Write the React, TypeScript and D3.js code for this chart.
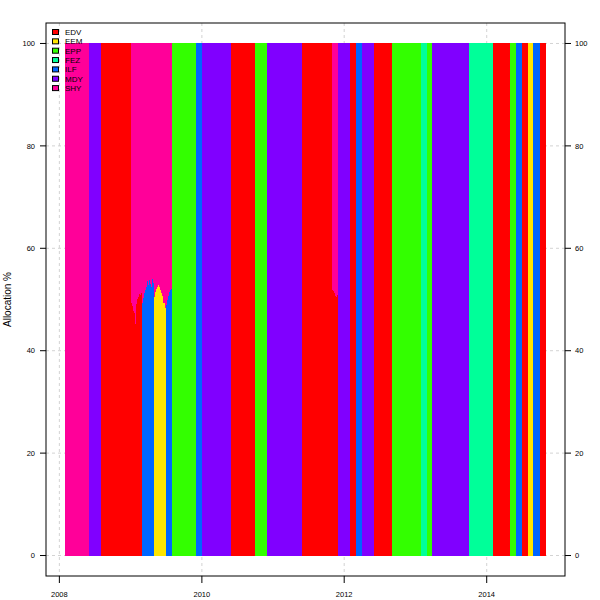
import React from "react";
import * as d3 from "d3";

// Funds (stacking order, bottom to top) and their colours
const assets = ["EDV", "EEM", "EPP", "FEZ", "ILF", "MDY", "SHY"];
const assetColors = ["#FF0000", "#FFE600", "#33FF00", "#00FF99", "#0066FF", "#8000FF", "#FF0099"];

// Observations: date, fund held, % in that fund (the rest is held in SHY)
const obsDates = [
  "2008-01-31", "2008-05-30", "2008-07-31",
  "2008-12-31", "2009-01-07", "2009-01-12", "2009-01-17", "2009-01-22", "2009-01-27",
  "2009-02-02", "2009-02-06", "2009-02-11", "2009-02-16", "2009-02-21",
  "2009-02-27", "2009-03-04", "2009-03-09", "2009-03-14", "2009-03-19", "2009-03-24",
  "2009-03-29", "2009-04-03", "2009-04-08", "2009-04-13", "2009-04-19", "2009-04-24",
  "2009-04-30", "2009-05-04", "2009-05-09", "2009-05-14", "2009-05-19", "2009-05-24",
  "2009-05-29", "2009-06-03", "2009-06-08", "2009-06-13", "2009-06-18", "2009-06-24",
  "2009-06-30", "2009-07-05", "2009-07-10", "2009-07-15", "2009-07-20", "2009-07-25",
  "2009-07-31", "2009-11-30", "2009-12-31", "2010-05-28", "2010-09-30", "2010-11-30",
  "2011-05-31",
  "2011-10-31", "2011-11-05", "2011-11-10", "2011-11-15", "2011-11-20", "2011-11-25",
  "2011-11-30", "2012-01-31", "2012-02-29", "2012-03-30", "2012-05-31", "2012-08-31",
  "2013-01-31", "2013-02-28", "2013-03-28", "2013-09-30", "2014-01-31", "2014-04-30",
  "2014-05-30", "2014-06-30", "2014-07-31", "2014-08-29", "2014-09-30", "2014-10-31",
];
const obsFund = [
  "SHY", "MDY", "EDV",
  "EDV", "EDV", "EDV", "EDV", "EDV", "EDV",
  "EDV", "EDV", "EDV", "EDV", "EDV",
  "ILF", "ILF", "ILF", "ILF", "ILF", "ILF",
  "ILF", "ILF", "ILF", "ILF", "ILF", "ILF",
  "EEM", "EEM", "EEM", "EEM", "EEM", "EEM",
  "EEM", "EEM", "EEM", "EEM", "EEM", "EEM",
  "ILF", "ILF", "ILF", "ILF", "ILF", "ILF",
  "EPP", "ILF", "MDY", "EDV", "EPP", "MDY",
  "EDV",
  "EDV", "EDV", "EDV", "EDV", "EDV", "EDV",
  "MDY", "EDV", "ILF", "MDY", "EDV", "EPP",
  "FEZ", "EPP", "MDY", "FEZ", "EDV", "EPP",
  "ILF", "EDV", "EEM", "ILF", "EDV", "EDV",
];
const obsWeight = [
  100, 100, 100,
  49.3, 48.7, 47.8, 47.4, 45.2, 49.1,
  50.1, 50.5, 51.1, 50.9, 51.3,
  49.3, 50.3, 51.3, 51.9, 52.4, 53.6,
  52.8, 53.8, 53.0, 52.4, 54.0, 53.2,
  50.5, 51.5, 52.0, 52.4, 52.8, 52.4,
  51.8, 51.3, 50.7, 50.1, 49.3, 48.3,
  48.9, 49.9, 50.7, 51.5, 51.9, 52.0,
  100, 100, 100, 100, 100, 100,
  100,
  51.9, 51.7, 51.3, 50.7, 50.5, 50.9,
  100, 100, 100, 100, 100, 100,
  100, 100, 100, 100, 100, 100,
  100, 100, 100, 100, 100, 100,
];

const xTickYears = [2008, 2010, 2012, 2014];
const yTicks = [0, 20, 40, 60, 80, 100];
const yLabel = "Allocation %";

export default function App() {
  const W = 600, H = 600;
  const left = 46, right = 565, top = 23, bottom = 576;
  const font = "'Liberation Sans', Arial, Helvetica, sans-serif";
  const parse = d3.timeParse("%Y-%m-%d");

  const rows = obsDates.map((d, i) => {
    const r: any = { date: parse(d) };
    assets.forEach((a) => (r[a] = 0));
    r[obsFund[i]] += obsWeight[i];
    r.SHY += 100 - obsWeight[i];
    return r;
  });

  const ext = d3.extent(rows, (r: any) => +r.date) as [number, number];
  const span = ext[1] - ext[0];
  const x = d3
    .scaleTime()
    .domain([new Date(ext[0] - 0.04 * span), new Date(ext[1] + 0.04 * span)])
    .range([left, right]);
  const y = d3.scaleLinear().domain([-4, 104]).range([bottom, top]);

  const series = d3.stack().keys(assets)(rows as any);
  const area = d3
    .area<any>()
    .x((d) => x(d.data.date))
    .y0((d) => y(d[0]))
    .y1((d) => y(d[1]))
    .curve(d3.curveStepAfter);

  const xTicks = xTickYears.map((yr) => new Date(yr, 0, 1));
  const grid = { stroke: "#D3D3D3", strokeDasharray: "3,3", strokeWidth: 1 };

  return (
    <svg
      width={W}
      height={H}
      style={{ position: "absolute", left: 0, top: 0, background: "#fff" }}
      fontFamily={font}
    >
      <rect x={0} y={0} width={W} height={H} fill="#fff" />
      {/* grid */}
      {xTicks.map((t, i) => (
        <line key={"gx" + i} x1={x(t)} x2={x(t)} y1={top} y2={bottom} {...grid} />
      ))}
      {yTicks.map((t, i) => (
        <line key={"gy" + i} x1={left} x2={right} y1={y(t)} y2={y(t)} {...grid} />
      ))}
      {/* stacked allocation areas */}
      {series.map((s: any, i: number) => (
        <path key={assets[i]} d={area(s) || ""} fill={assetColors[i]} stroke="none" shapeRendering="crispEdges" />
      ))}
      {/* frame */}
      <rect x={left} y={top} width={right - left} height={bottom - top} fill="none" stroke="#000" strokeWidth={1} />
      {/* left axis */}
      {yTicks.map((t, i) => (
        <g key={"ly" + i}>
          <line x1={left - 6} x2={left} y1={y(t)} y2={y(t)} stroke="#000" />
          <text x={left - 11} y={y(t)} dy="0.35em" textAnchor="end" fontSize={7.5}>
            {t}
          </text>
        </g>
      ))}
      {/* right axis */}
      {yTicks.map((t, i) => (
        <g key={"ry" + i}>
          <line x1={right} x2={right + 6} y1={y(t)} y2={y(t)} stroke="#000" />
          <text x={right + 10} y={y(t)} dy="0.35em" textAnchor="start" fontSize={7.5}>
            {t}
          </text>
        </g>
      ))}
      {/* x axis */}
      {xTicks.map((t, i) => (
        <g key={"xt" + i}>
          <line x1={x(t)} x2={x(t)} y1={bottom} y2={bottom + 7} stroke="#000" />
          <text x={x(t)} y={597} textAnchor="middle" fontSize={7.5}>
            {xTickYears[i]}
          </text>
        </g>
      ))}
      {/* y label */}
      <text
        transform={`translate(11, ${(top + bottom) / 2}) rotate(-90)`}
        textAnchor="middle"
        fontSize={10}
      >
        {yLabel}
      </text>
      {/* legend */}
      {assets.map((a, i) => (
        <g key={"lg" + a}>
          <rect x={52.5} y={29.5 + i * 9.35} width={6} height={5} fill={assetColors[i]} stroke="#000" strokeWidth={1} />
          <text x={65} y={32 + i * 9.35} dy="0.35em" fontSize={8}>
            {a}
          </text>
        </g>
      ))}
    </svg>
  );
}
